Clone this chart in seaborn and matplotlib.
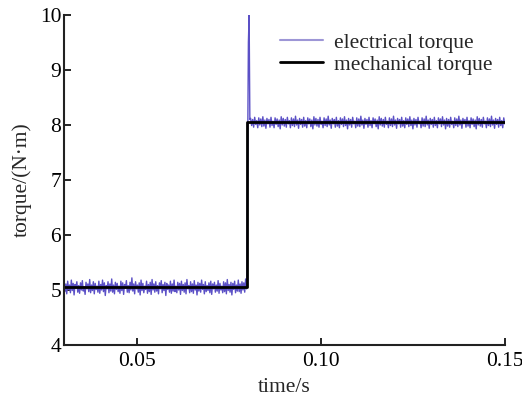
import numpy as np
import pandas as pd
import matplotlib
matplotlib.use("Agg")
import matplotlib.pyplot as plt
import seaborn as sns

# ---- data ----
elec_pre = [
    5.14,4.97,5.11,4.93,5.16,5.01,5.09,4.95,5.18,4.99,5.12,4.91,5.10,5.03,5.15,4.96,5.08,4.94,5.13,5.00,
    5.17,4.98,5.06,4.92,5.14,5.02,5.11,4.97,5.19,4.95,5.09,4.99,5.15,4.93,5.12,5.01,5.07,4.96,5.16,4.94,
    5.10,5.00,5.18,4.97,5.13,4.90,5.08,5.02,5.15,4.95,5.11,4.98,5.20,4.96,5.09,4.93,5.14,5.01,5.12,4.97,
    5.07,4.94,5.16,4.99,5.13,4.92,5.10,5.03,5.17,4.96,5.08,4.95,5.14,5.00,5.22,4.98,5.11,4.93,5.15,5.02,
    5.09,4.96,5.13,4.91,5.18,4.99,5.12,4.95,5.07,5.01,5.16,4.94,5.10,4.97,5.14,4.92,5.19,5.00,5.11,4.96,
    5.15,4.98,5.08,4.93,5.13,5.02,5.17,4.95,5.10,4.99,5.14,4.90,5.12,5.01,5.09,4.96,5.16,4.94,5.11,4.98,
    5.18,4.97,5.07,4.95,5.14,5.00,5.12,4.92,5.16,4.99,5.10,4.96,5.13,4.93,5.19,5.02,5.08,4.95,5.15,4.97,
    5.11,4.94,5.17,5.00,5.09,4.91,5.14,4.98,5.12,4.96,5.18,5.01,5.10,4.93,5.15,4.97,5.08,4.99,5.13,4.95,
    5.16,4.92,5.11,5.02,5.14,4.96,5.09,4.98,5.17,4.94,5.12,5.00,5.07,4.95,5.15,4.97,5.13,4.93,5.19,4.99,
    5.10,4.96,5.14,4.91,5.12,5.01,5.16,4.95,5.09,4.98,5.18,4.97,5.11,4.94,5.15,5.00,5.13,4.96,5.20,5.02]
spike_t = [0.0798, 0.0800, 0.0802, 0.0804, 0.0806]
spike_v = [5.10, 7.50, 9.50, 10.0, 8.10]
elec_post = [
    8.12,7.99,8.10,7.96,8.14,8.01,8.08,7.95,8.13,8.00,8.11,7.97,8.15,7.98,8.09,7.94,8.12,8.02,8.10,7.96,
    8.14,7.99,8.07,7.95,8.13,8.01,8.11,7.97,8.09,7.93,8.15,8.00,8.12,7.98,8.10,7.96,8.14,8.02,8.08,7.95,
    8.13,7.99,8.11,7.97,8.16,8.00,8.09,7.94,8.12,8.01,8.10,7.96,8.14,7.98,8.08,7.95,8.13,8.02,8.11,7.97,
    8.09,7.93,8.15,8.00,8.12,7.98,8.10,7.96,8.14,8.01,8.07,7.95,8.13,7.99,8.11,7.97,8.16,8.00,8.09,7.94,
    8.12,8.02,8.10,7.96,8.14,7.98,8.08,7.95,8.13,8.01,8.11,7.97,8.15,7.99,8.09,7.93,8.12,8.00,8.10,7.96,
    8.14,8.02,8.07,7.95,8.13,7.98,8.11,7.97,8.16,8.00,8.09,7.94,8.12,8.01,8.10,7.96,8.14,7.99,8.08,7.95,
    8.13,8.02,8.11,7.97,8.09,7.93,8.15,8.00,8.12,7.98,8.10,7.96,8.14,8.01,8.07,7.95,8.13,7.99,8.11,7.97,
    8.16,8.00,8.09,7.94,8.12,8.02,8.10,7.96,8.14,7.98,8.08,7.95,8.13,8.01,8.11,7.97,8.15,7.99,8.09,7.93,
    8.12,8.00,8.10,7.96,8.14,8.02,8.07,7.95,8.13,7.98,8.11,7.97,8.16,8.00,8.09,7.94,8.12,8.01,8.10,7.96,
    8.14,7.99,8.08,7.95,8.13,8.02,8.11,7.97,8.15,8.00,8.09,7.93,8.12,7.98,8.10,7.96,8.14,8.01,8.07,7.95,
    8.13,7.99,8.11,7.97,8.16,8.00,8.09,7.94,8.12,8.02,8.10,7.96,8.14,7.98,8.08,7.95,8.13,8.01,8.11,7.97,
    8.09,7.93,8.15,8.00,8.12,7.98,8.10,7.96,8.14,8.02,8.07,7.95,8.13,7.99,8.11,7.97,8.16,8.00,8.09,7.94,
    8.12,8.01,8.10,7.96,8.14,7.99,8.08,7.95,8.13,8.02]
mech_t = [0.03, 0.0798, 0.0798, 0.15]
mech_v = [5.05, 5.05, 8.05, 8.05]
x_ticks = [0.05, 0.10, 0.15]
x_ticklabels = ["0.05", "0.10", "0.15"]
y_ticks = [4, 5, 6, 7, 8, 9, 10]

t_pre = np.linspace(0.03, 0.0797, len(elec_pre))
t_post = np.linspace(0.0808, 0.15, len(elec_post))
elec = pd.DataFrame({"t": np.concatenate([t_pre, spike_t, t_post]),
                     "v": np.concatenate([elec_pre, spike_v, elec_post])})
mech = pd.DataFrame({"t": mech_t, "v": mech_v})

sns.set_style("ticks")
plt.rcParams["font.family"] = ["Liberation Serif", "DejaVu Serif"]

fig = plt.figure(figsize=(5.22, 4.01), dpi=100)
ax = fig.add_axes([0.1226, 0.1397, 0.8444, 0.8229])

sns.lineplot(data=elec, x="t", y="v", ax=ax, estimator=None, sort=False,
             color="#5b50c6", linewidth=1.0, label="electrical torque")
sns.lineplot(data=mech, x="t", y="v", ax=ax, estimator=None, sort=False,
             color="black", linewidth=2.0, label="mechanical torque")

ax.set_xlim(0.03, 0.15)
ax.set_ylim(4, 10)
ax.set_xticks(x_ticks)
ax.set_xticklabels(x_ticklabels)
ax.set_yticks(y_ticks)
ax.tick_params(direction="in", length=5, width=1.2, labelsize=15.5, colors="black")
ax.tick_params(axis="y", pad=2)
ax.tick_params(axis="x", pad=5)
for s in ["top", "right"]:
    ax.spines[s].set_visible(False)
for s in ["left", "bottom"]:
    ax.spines[s].set_linewidth(1.5)
    ax.spines[s].set_color("#222222")
ax.set_xlabel("time/s", fontsize=15.5, labelpad=5)
ax.set_ylabel("torque/(N·m)", fontsize=15.5, labelpad=6)

leg = ax.legend(loc="upper right", frameon=False, fontsize=15.5, handlelength=2.0,
                handletextpad=0.55, labelspacing=0.08, borderaxespad=0.15,
                bbox_to_anchor=(1.0, 0.982))
leg.get_lines()[0].set_color("#9d96d6")
leg.get_lines()[0].set_linewidth(1.5)

fig.savefig("out.png", dpi=100)
